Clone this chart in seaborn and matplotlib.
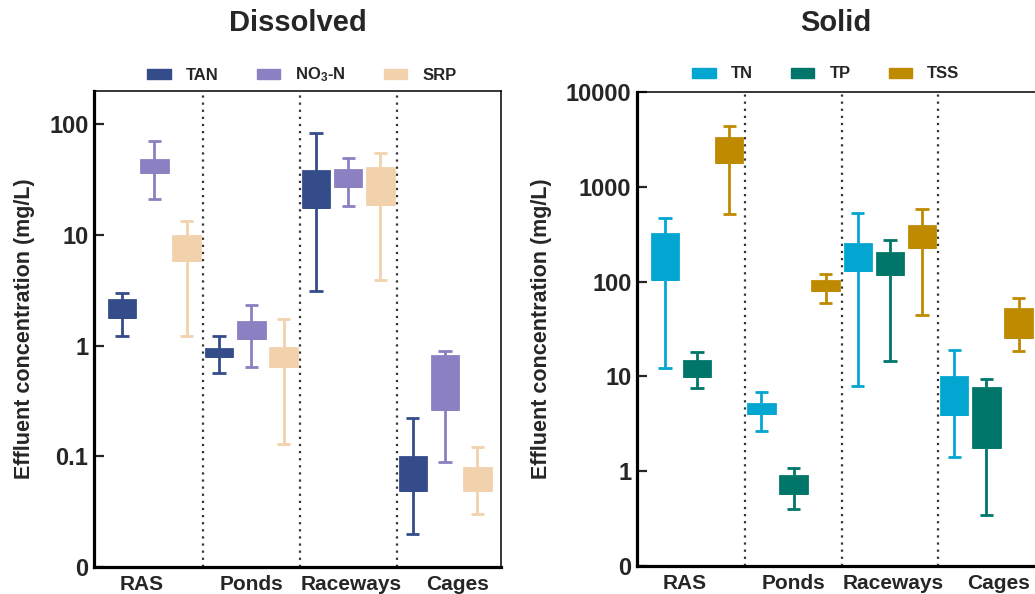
import numpy as np
import pandas as pd
import matplotlib
matplotlib.use("Agg")
import matplotlib.pyplot as plt
import seaborn as sns
from matplotlib.patches import Patch
from matplotlib.ticker import NullLocator

# ---------------- data ----------------
systems = ["RAS", "Ponds", "Raceways", "Cages"]

# Dissolved (mg/L): whisker low, box bottom (Q1), box top (Q3), whisker high
dis_params = ["TAN", "NO3-N", "SRP"]
dis_labels = ["TAN", r"NO$_3$-N", "SRP"]
dis_colors = ["#344C89", "#8B80C1", "#F2D2AC"]

tan_low = [1.23, 0.57, 3.15, 0.0197]
tan_q1 = [1.81, 0.81, 17.9, 0.0498]
tan_q3 = [2.6, 0.93, 37.5, 0.0986]
tan_high = [3.0, 1.22, 83.5, 0.221]

no3_low = [21.2, 0.64, 18.4, 0.0888]
no3_q1 = [36.7, 1.18, 27.8, 0.269]
no3_q3 = [47.7, 1.62, 38.8, 0.805]
no3_high = [71.0, 2.31, 50.0, 0.90]

srp_low = [1.23, 0.128, 3.9, 0.030]
srp_q1 = [5.9, 0.66, 19.1, 0.0498]
srp_q3 = [9.7, 0.96, 40.7, 0.0789]
srp_high = [13.4, 1.74, 55.0, 0.121]

# Solid (mg/L)
sol_params = ["TN", "TP", "TSS"]
sol_labels = ["TN", "TP", "TSS"]
sol_colors = ["#02A6D1", "#00766A", "#BE8A00"]

tn_low = [12.4, 2.64, 7.85, 1.40]
tn_q1 = [106, 4.15, 131, 4.05]
tn_q3 = [318, 5.1, 251, 9.8]
tn_high = [473, 6.8, 530, 19.1]

tp_low = [7.5, 0.40, 14.4, 0.344]
tp_q1 = [10.2, 0.59, 120, 1.82]
tp_q3 = [14.4, 0.88, 201, 7.6]
tp_high = [18.3, 1.08, 277, 9.45]

tss_low = [517, 59, 44, 18.5]
tss_q1 = [1840, 81, 233, 26.3]
tss_q3 = [3250, 101, 383, 51.8]
tss_high = [4360, 120, 580, 67]

dis_ticks = [0.01, 0.1, 1, 10, 100]
dis_ticklabels = ["0", "0.1", "1", "10", "100"]
sol_ticks = [0.1, 1, 10, 100, 1000, 10000]
sol_ticklabels = ["0", "1", "10", "100", "1000", "10000"]

# small horizontal nudges of the category labels (in category units)
label_nudge = [-0.13, 0.0, 0.03, 0.13]


def build_frame(params, stats):
    rows = []
    for p, (lo, q1, q3, hi) in zip(params, stats):
        for i, s in enumerate(systems):
            # five values -> exact quartiles; whiskers span min..max
            for v in (lo[i], q1[i], q1[i], q3[i], hi[i]):
                rows.append({"system": s, "param": p, "value": v})
    return pd.DataFrame(rows)


dis_df = build_frame(dis_params, [(tan_low, tan_q1, tan_q3, tan_high),
                                  (no3_low, no3_q1, no3_q3, no3_high),
                                  (srp_low, srp_q1, srp_q3, srp_high)])
sol_df = build_frame(sol_params, [(tn_low, tn_q1, tn_q3, tn_high),
                                  (tp_low, tp_q1, tp_q3, tp_high),
                                  (tss_low, tss_q1, tss_q3, tss_high)])

# ---------------- style ----------------
sns.set_theme(style="ticks")
plt.rcParams["font.family"] = ["Liberation Sans", "DejaVu Sans"]
plt.rcParams["font.weight"] = "bold"
plt.rcParams["mathtext.fontset"] = "custom"
plt.rcParams["mathtext.rm"] = "Liberation Sans:bold"
plt.rcParams["mathtext.it"] = "Liberation Sans:bold"
plt.rcParams["mathtext.bf"] = "Liberation Sans:bold"

W, H = 1035, 594
fig = plt.figure(figsize=(W / 100, H / 100), dpi=100)
fig.patch.set_facecolor("white")

ax1 = fig.add_axes([94 / W, 1 - 567 / H, 407 / W, 476 / H])
ax2 = fig.add_axes([637 / W, 1 - 566 / H, 405 / W, 474 / H])


def draw(ax, df, params, colors, ylim, ticks, ticklabels):
    sns.boxplot(data=df, x="system", y="value", hue="param",
                order=systems, hue_order=params, palette=colors,
                width=1.0, gap=0.18, whis=(0, 100), log_scale=True,
                saturation=1, linewidth=2.0, showfliers=False,
                legend=False, ax=ax)
    conts = [c for c in ax.containers if hasattr(c, "boxes")]
    for cont, col in zip(conts, colors):
        for b in cont.boxes:
            b.set_facecolor(col)
            b.set_edgecolor(col)
        for ln in list(cont.whiskers) + list(cont.caps) + list(cont.medians):
            ln.set_color(col)
            ln.set_linewidth(2.0)
            ln.set_solid_capstyle("butt")
    for xv in (0.5, 1.5, 2.5):
        ax.axvline(xv, color="#333333", lw=1.6, ls=(0, (1, 2.2)), zorder=0)
    ax.set_xlim(-0.623, 3.577)
    ax.set_ylim(*ylim)
    ax.yaxis.set_minor_locator(NullLocator())
    ax.set_yticks(ticks)
    ax.set_yticklabels(ticklabels, fontsize=17, fontweight="bold")
    ax.set_xticks(np.arange(len(systems)) + np.array(label_nudge))
    ax.set_xticklabels(systems, fontsize=15, fontweight="bold")
    ax.tick_params(axis="x", length=0, pad=6)
    ax.tick_params(axis="y", direction="in", length=7, width=1.6, pad=4)
    ax.set_xlabel("")
    ax.set_ylabel("Effluent concentration (mg/L)", fontsize=15.5,
                  fontweight="bold", labelpad=10)
    for side in ("left", "bottom"):
        ax.spines[side].set_linewidth(2.3)
    for side in ("top", "right"):
        ax.spines[side].set_linewidth(1.1)
        ax.spines[side].set_visible(True)
    for s in ax.spines.values():
        s.set_color("black")


draw(ax1, dis_df, dis_params, dis_colors, (0.01, 200), dis_ticks, dis_ticklabels)
draw(ax2, sol_df, sol_params, sol_colors, (0.1, 10000), sol_ticks, sol_ticklabels)

fig.text(298 / W, 1 - 23 / H, "Dissolved", ha="center", va="center",
         fontsize=21, fontweight="bold")
fig.text(836 / W, 1 - 23 / H, "Solid", ha="center", va="center",
         fontsize=21, fontweight="bold")

leg_kw = dict(loc="center", ncol=3, frameon=False, handlelength=1.4,
              handleheight=0.55, handletextpad=0.9, columnspacing=2.3,
              prop={"weight": "bold", "size": 12})
h1 = [Patch(facecolor=c, edgecolor=c) for c in dis_colors]
fig.legend(h1, dis_labels, bbox_to_anchor=(302 / W, 1 - 75 / H), **leg_kw)
h2 = [Patch(facecolor=c, edgecolor=c) for c in sol_colors]
fig.legend(h2, sol_labels, bbox_to_anchor=(826 / W, 1 - 74 / H), **leg_kw)

fig.savefig("out.png", dpi=100)
